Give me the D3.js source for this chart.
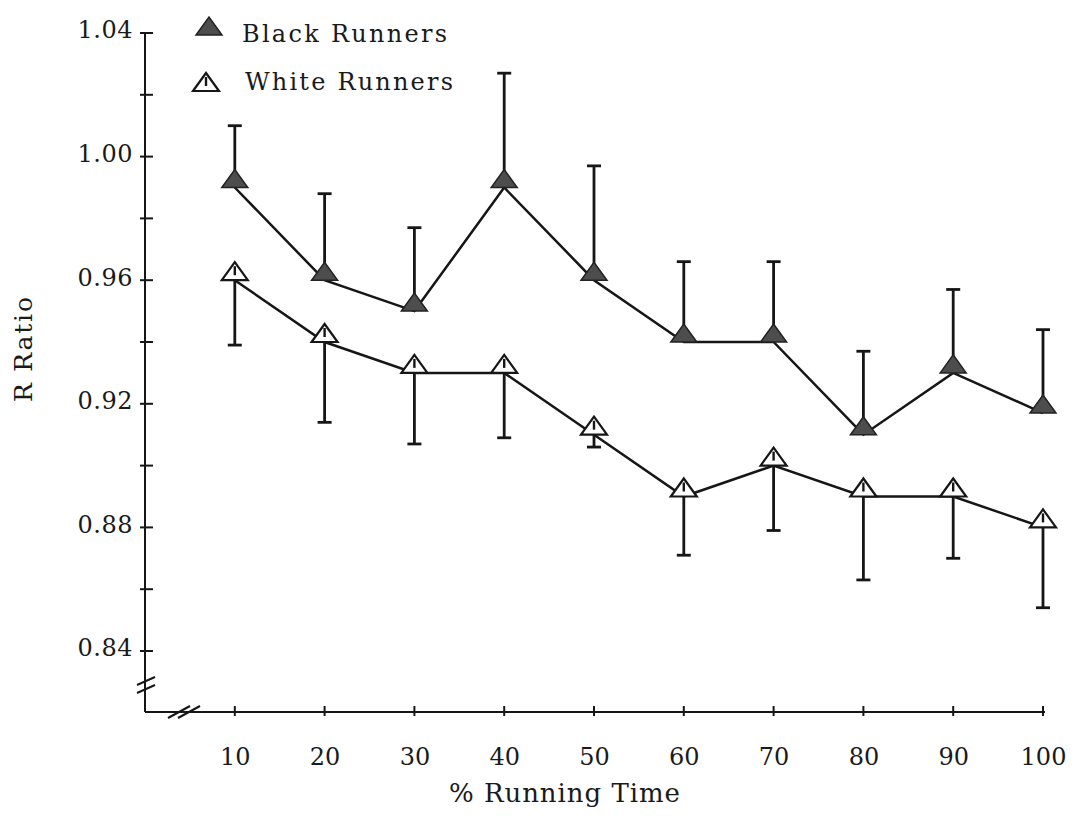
<!DOCTYPE html>
<html>
<head>
<meta charset="utf-8">
<script src="https://cdn.jsdelivr.net/npm/d3@7"></script>
<style>
  html, body { margin: 0; padding: 0; background: #ffffff; }
  svg { display: block; }
  text { font-family: "DejaVu Serif", "Liberation Serif", serif; fill: #1a1a1a; }
</style>
</head>
<body>
<svg id="chart" width="1077" height="818"></svg>
<script>
// ---- data ----
const runningTime = [10, 20, 30, 40, 50, 60, 70, 80, 90, 100];
const blackMean = [0.99, 0.96, 0.95, 0.99, 0.96, 0.94, 0.94, 0.91, 0.93, 0.917];
const blackUpper = [1.010, 0.988, 0.977, 1.027, 0.997, 0.966, 0.966, 0.937, 0.957, 0.944];
const whiteMean = [0.96, 0.94, 0.93, 0.93, 0.91, 0.89, 0.90, 0.89, 0.89, 0.88];
const whiteLower = [0.939, 0.914, 0.907, 0.909, 0.906, 0.871, 0.879, 0.863, 0.870, 0.854];
const yMajorTicks = [0.84, 0.88, 0.92, 0.96, 1.00, 1.04];
const yMinorTicks = [0.86, 0.90, 0.94, 0.98, 1.02];
const xTicks = [10, 20, 30, 40, 50, 60, 70, 80, 90, 100];
const seriesNames = ["Black Runners", "White Runners"];

// ---- layout ----
const svg = d3.select("#chart");
const x0 = 145, xAxisY = 712;
const x = d3.scaleLinear().domain([0, 100]).range([x0, 1043]);
const y = d3.scaleLinear().domain([0.84, 1.04]).range([651, 33]);
const ink = "#161616";

// y axis line
svg.append("line").attr("x1", x0).attr("x2", x0).attr("y1", y(1.04)).attr("y2", xAxisY)
  .attr("stroke", ink).attr("stroke-width", 2);
// x axis line
svg.append("line").attr("x1", x0).attr("x2", x(100) + 2).attr("y1", xAxisY).attr("y2", xAxisY)
  .attr("stroke", ink).attr("stroke-width", 2);

// y ticks via d3 axis
const yAxisMajor = d3.axisLeft(y).tickValues(yMajorTicks).tickSize(0).tickFormat(d3.format(".2f"));
const gy = svg.append("g").attr("transform", `translate(${x0},0)`).call(yAxisMajor);
gy.select(".domain").remove();
gy.selectAll(".tick text")
  .attr("x", -12).attr("dy", "0.2em")
  .attr("font-size", 24).attr("letter-spacing", 0.5)
  .attr("font-family", "DejaVu Serif").attr("fill", "#1a1a1a");
const allY = yMajorTicks.concat(yMinorTicks);
svg.append("g").selectAll("line").data(allY).join("line")
  .attr("x1", x0 - 5).attr("x2", x0 + 8)
  .attr("y1", d => y(d)).attr("y2", d => y(d))
  .attr("stroke", ink).attr("stroke-width", 2);

// x ticks
const xAxis = d3.axisBottom(x).tickValues(xTicks).tickSize(0).tickFormat(d3.format("d"));
const gx = svg.append("g").attr("transform", `translate(0,${xAxisY})`).call(xAxis);
gx.select(".domain").remove();
gx.selectAll(".tick text")
  .attr("y", 53).attr("dy", 0)
  .attr("font-size", 24)
  .attr("font-family", "DejaVu Serif").attr("fill", "#1a1a1a");
svg.append("g").selectAll("line").data(xTicks).join("line")
  .attr("x1", d => x(d)).attr("x2", d => x(d))
  .attr("y1", xAxisY - 6).attr("y2", xAxisY + 4)
  .attr("stroke", ink).attr("stroke-width", 2);

// axis breaks
[0, 8].forEach(dy => {
  svg.append("line").attr("x1", 137).attr("y1", 685 + dy).attr("x2", 155).attr("y2", 677 + dy)
    .attr("stroke", ink).attr("stroke-width", 2);
});
[0, 10].forEach(dx => {
  svg.append("line").attr("x1", 168 + dx).attr("y1", 718).attr("x2", 190 + dx).attr("y2", 706)
    .attr("stroke", ink).attr("stroke-width", 2);
});

// axis titles
svg.append("text").attr("x", 449).attr("y", 802)
  .attr("font-size", 26).attr("textLength", 231).attr("lengthAdjust", "spacing")
  .text("% Running Time");
svg.append("text").attr("transform", "translate(32,402) rotate(-90)")
  .attr("font-size", 25).attr("textLength", 105).attr("lengthAdjust", "spacing")
  .text("R Ratio");

// triangles (base at data point)
const triW = 26, triH = 18;
function triPath(cx, by) {
  return `M${cx - triW / 2},${by} L${cx + triW / 2},${by} L${cx},${by - triH} Z`;
}

const blackData = runningTime.map((t, i) => ({ t, m: blackMean[i], e: blackUpper[i] }));
const whiteData = runningTime.map((t, i) => ({ t, m: whiteMean[i], e: whiteLower[i] }));

const line = d3.line().x(d => x(d.t)).y(d => y(d.m));

function errorBars(data) {
  const g = svg.append("g");
  g.selectAll("line.bar").data(data).join("line")
    .attr("x1", d => x(d.t)).attr("x2", d => x(d.t))
    .attr("y1", d => y(d.m) - triH / 2).attr("y2", d => y(d.e))
    .attr("stroke", ink).attr("stroke-width", 2.8);
  g.selectAll("line.cap").data(data).join("line")
    .attr("x1", d => x(d.t) - 7).attr("x2", d => x(d.t) + 7)
    .attr("y1", d => y(d.e)).attr("y2", d => y(d.e))
    .attr("stroke", ink).attr("stroke-width", 2.8);
}
errorBars(blackData);
errorBars(whiteData);

svg.append("path").datum(blackData).attr("d", line)
  .attr("fill", "none").attr("stroke", ink).attr("stroke-width", 2.5);
svg.append("path").datum(whiteData).attr("d", line)
  .attr("fill", "none").attr("stroke", ink).attr("stroke-width", 2.5);

svg.append("g").selectAll("path").data(blackData).join("path")
  .attr("d", d => triPath(x(d.t), y(d.m)))
  .attr("fill", "#4d4d4d").attr("stroke", "#222").attr("stroke-width", 1.5);
const wm = svg.append("g");
wm.selectAll("path").data(whiteData).join("path")
  .attr("d", d => triPath(x(d.t), y(d.m)))
  .attr("fill", "#ffffff").attr("stroke", ink).attr("stroke-width", 2.2);
wm.selectAll("line").data(whiteData).join("line")
  .attr("x1", d => x(d.t)).attr("x2", d => x(d.t))
  .attr("y1", d => y(d.m) - triH + 4).attr("y2", d => y(d.m) - 5)
  .attr("stroke", ink).attr("stroke-width", 2.4);

// legend
const leg = svg.append("g");
leg.append("path").attr("d", triPath(209, 35)).attr("fill", "#4d4d4d").attr("stroke", "#222").attr("stroke-width", 1.5);
leg.append("path").attr("d", triPath(206, 91)).attr("fill", "#fff").attr("stroke", ink).attr("stroke-width", 2.2);
leg.append("line").attr("x1", 206).attr("x2", 206).attr("y1", 91 - triH + 4).attr("y2", 86)
  .attr("stroke", ink).attr("stroke-width", 2.4);
leg.append("text").attr("x", 242).attr("y", 42).attr("font-size", 24)
  .attr("textLength", 205).attr("lengthAdjust", "spacing").text(seriesNames[0]);
leg.append("text").attr("x", 245).attr("y", 90).attr("font-size", 24)
  .attr("textLength", 208).attr("lengthAdjust", "spacing").text(seriesNames[1]);
</script>
</body>
</html>
